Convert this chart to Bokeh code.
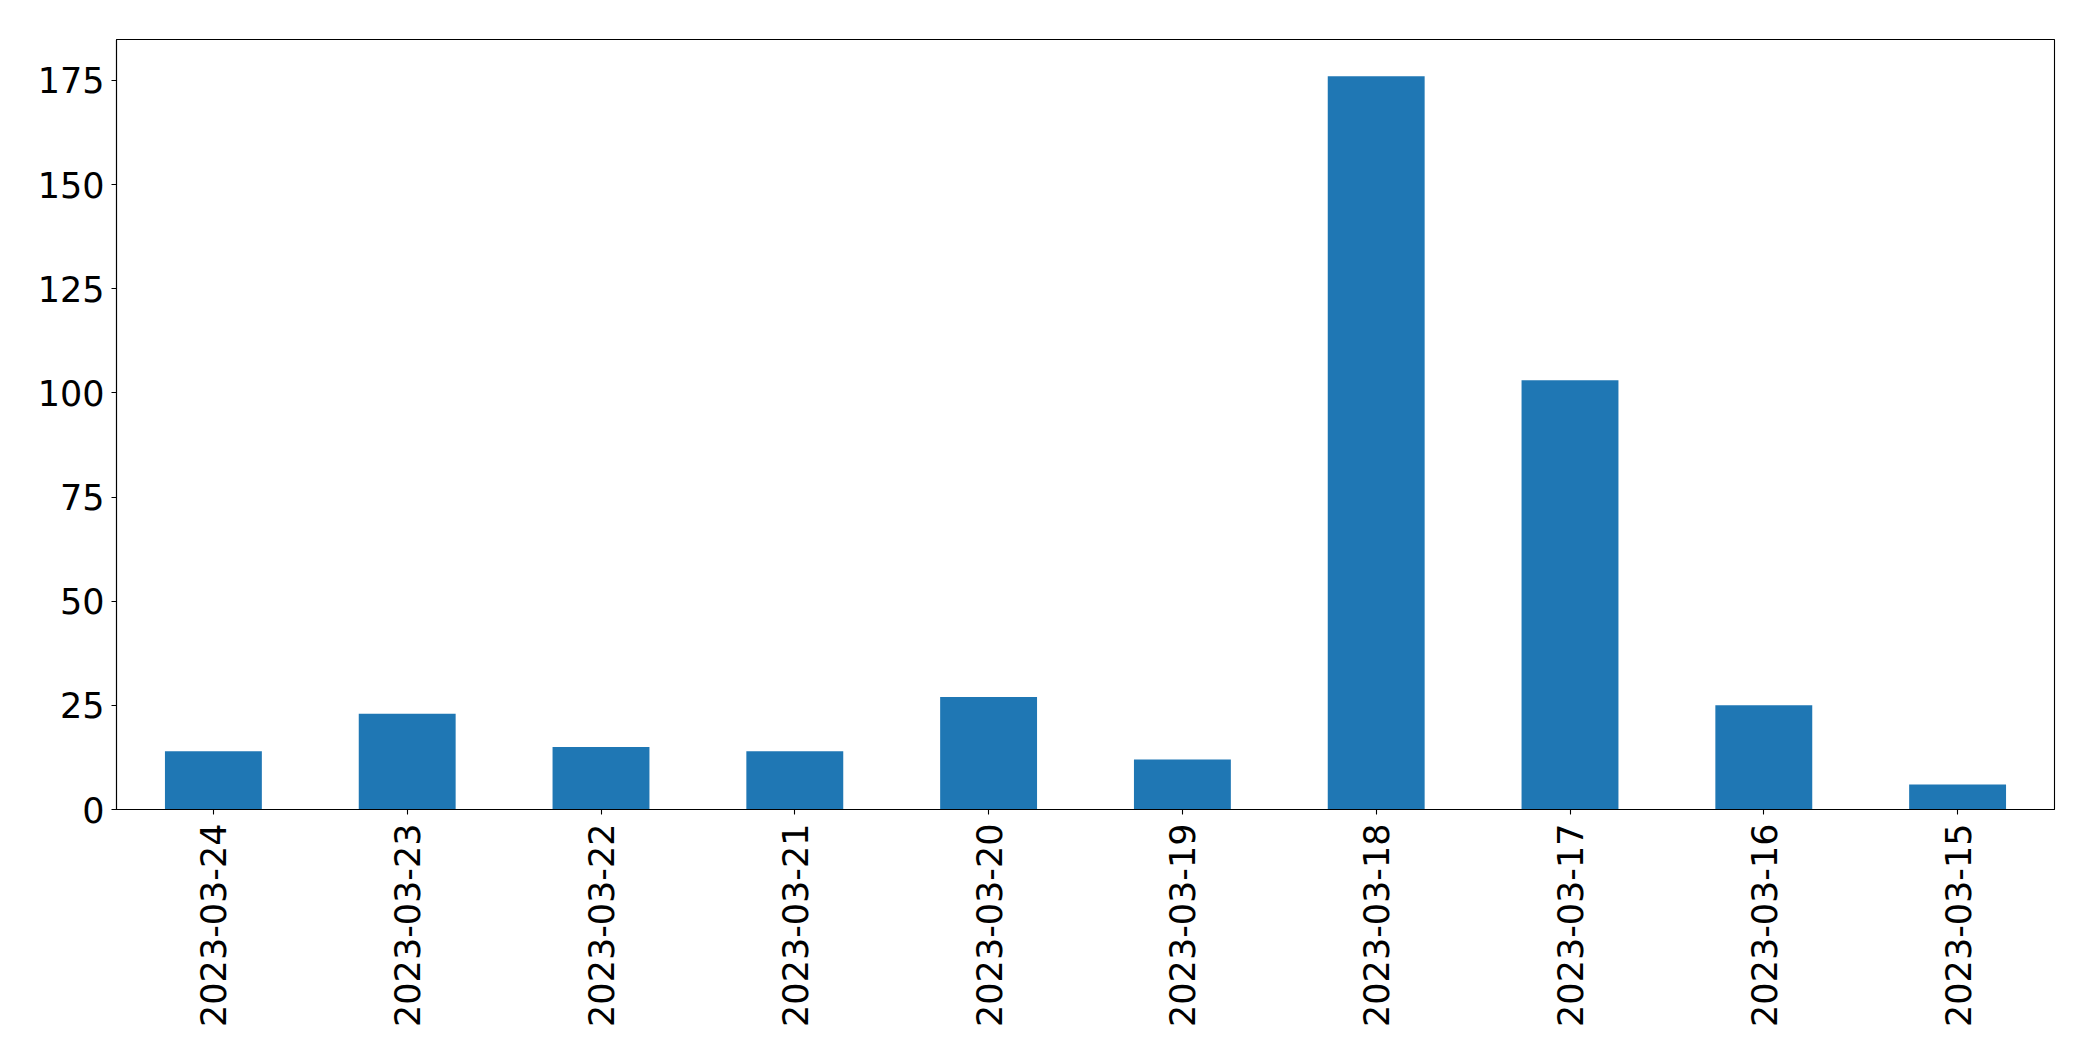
import math
from bokeh.plotting import figure
from bokeh.models import ColumnDataSource, Range1d, FactorRange, SingleIntervalTicker
from bokeh.embed import file_html
from bokeh.resources import INLINE

dates = ["2023-03-24", "2023-03-23", "2023-03-22", "2023-03-21", "2023-03-20",
         "2023-03-19", "2023-03-18", "2023-03-17", "2023-03-16", "2023-03-15"]
counts = [14, 23, 15, 14, 27, 12, 176, 103, 25, 6]

source = ColumnDataSource(data=dict(date=dates, count=counts))

W, H = 2085, 1053
p = figure(width=W, height=H, output_backend="svg", toolbar_location=None,
           x_range=FactorRange(factors=dates, range_padding=0),
           y_range=Range1d(0, max(counts) * 1.05),
           min_border_left=116, min_border_right=31,
           min_border_top=39, min_border_bottom=244)

p.vbar(x="date", top="count", width=0.5, source=source,
       fill_color="#1f77b4", line_color=None)

p.xgrid.visible = False
p.ygrid.visible = False
p.outline_line_color = "black"
p.outline_line_width = 1.1
p.background_fill_color = "white"
p.border_fill_color = "white"

font = "DejaVu Sans"
for ax in (p.xaxis[0], p.yaxis[0]):
    ax.axis_line_color = "black"
    ax.axis_line_width = 1.1
    ax.major_tick_line_color = "black"
    ax.major_tick_line_width = 1.1
    ax.major_tick_out = 5
    ax.major_tick_in = 0
    ax.minor_tick_line_color = None
    ax.major_label_text_font = font
    ax.major_label_text_font_size = "35px"
    ax.major_label_text_color = "black"

p.yaxis[0].ticker = SingleIntervalTicker(interval=25)
p.yaxis[0].major_label_standoff = 7
p.xaxis[0].major_label_orientation = math.pi / 2
p.xaxis[0].major_label_standoff = 9
p.xaxis[0].group_text_font_size = "0px"

open("out.html", "w").write(file_html(p, INLINE))
